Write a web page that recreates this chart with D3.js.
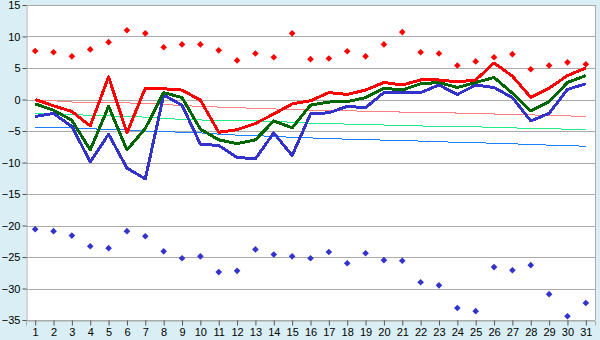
<!DOCTYPE html>
<html>
<head>
<meta charset="utf-8">
<script src="https://cdn.jsdelivr.net/npm/d3@7"></script>
<style>
  body { margin: 0; background: #d9eef5; }
  svg { display: block; }
  text { font-family: "Liberation Sans", Arial, sans-serif; font-size: 11px; fill: #000; }
</style>
</head>
<body>
<svg width="600" height="340"></svg>
<script>
const days = d3.range(1, 32);

const recordHigh = [7.7, 7.5, 6.85, 7.95, 9.1, 11.0, 10.5, 8.3, 8.75, 8.75, 7.8, 6.2, 7.3, 6.7, 10.5,
  6.4, 6.5, 7.65, 6.85, 8.75, 10.7, 7.5, 7.3, 5.4, 6.05, 6.7, 7.2, 4.8, 5.4, 5.9, 5.6];
const recordLow = [-20.6, -20.9, -21.6, -23.3, -23.6, -20.9, -21.7, -24.1, -25.2, -24.9, -27.4, -27.2, -23.8, -24.6, -24.9,
  -25.2, -24.2, -26.0, -24.4, -25.5, -25.6, -29.0, -29.5, -33.1, -33.6, -26.6, -27.1, -26.3, -30.9, -34.4, -32.3];

const tMax = [0.0, -1.0, -1.9, -4.2, 3.6, -5.3, 1.8, 1.7, 1.5, -0.1, -5.2, -4.8, -3.8, -2.3, -0.7,
  -0.2, 1.1, 0.8, 1.5, 2.7, 2.3, 3.1, 3.1, 2.8, 3.1, 5.8, 3.7, 0.35, 1.8, 3.8, 5.0];
const tMean = [-0.7, -1.7, -3.3, -8.0, -1.1, -8.0, -4.6, 1.1, 0.3, -4.7, -6.4, -7.0, -6.4, -3.4, -4.5,
  -0.9, -0.4, -0.35, 0.3, 1.8, 1.5, 2.5, 2.7, 1.9, 2.7, 3.5, 1.0, -1.8, -0.35, 2.7, 3.8];
const tMin = [-2.7, -2.2, -4.3, -9.9, -5.5, -10.9, -12.6, 0.7, -0.9, -7.1, -7.3, -9.2, -9.4, -5.3, -8.9,
  -2.3, -2.1, -1.1, -1.3, 1.1, 1.1, 1.1, 2.3, 0.8, 2.3, 1.9, 0.3, -3.4, -2.2, 1.6, 2.5];

const normMax = [-0.1, -0.2, -0.4, -0.45, -0.5, -0.55, -0.6, -0.8, -0.95, -1.1, -1.2, -1.3, -1.4, -1.5, -1.6,
  -1.7, -1.75, -1.8, -1.85, -1.9, -2.0, -2.05, -2.1, -2.15, -2.2, -2.3, -2.4, -2.45, -2.5, -2.6, -2.7];
const normMean = [-2.2, -2.3, -2.4, -2.5, -2.6, -2.7, -2.8, -3.0, -3.15, -3.25, -3.3, -3.35, -3.4, -3.5, -3.6,
  -3.75, -3.85, -3.9, -3.95, -4.05, -4.1, -4.2, -4.25, -4.3, -4.35, -4.4, -4.5, -4.6, -4.65, -4.7, -4.75];
const normMin = [-4.4, -4.45, -4.5, -4.65, -4.75, -4.85, -5.0, -5.1, -5.2, -5.3, -5.5, -5.65, -5.75, -5.85, -6.0,
  -6.1, -6.2, -6.3, -6.35, -6.45, -6.5, -6.6, -6.7, -6.8, -6.85, -6.95, -7.05, -7.1, -7.25, -7.35, -7.4];

const yTicks = [15, 10, 5, 0, -5, -10, -15, -20, -25, -30, -35];

const plotLeft = 26, plotRight = 595, plotTop = 5, plotBottom = 320;

const svg = d3.select("svg");

const x = d3.scalePoint().domain(days).range([plotLeft, plotRight]).padding(0.5);
const y = d3.scaleLinear().domain([-35, 15]).range([plotBottom, plotTop]);

// plot background
svg.append("rect")
  .attr("x", plotLeft).attr("y", plotTop)
  .attr("width", plotRight - plotLeft).attr("height", plotBottom - plotTop)
  .attr("fill", "#fff");

// gridlines
svg.append("g")
  .selectAll("line")
  .data(yTicks)
  .enter().append("line")
    .attr("x1", plotLeft).attr("x2", plotRight)
    .attr("y1", d => Math.round(y(d)) + 0.5)
    .attr("y2", d => Math.round(y(d)) + 0.5)
    .attr("stroke", "#aaa");

// right border
svg.append("line")
  .attr("x1", plotRight + 0.5).attr("x2", plotRight + 0.5)
  .attr("y1", plotTop).attr("y2", plotBottom)
  .attr("stroke", "#aaa");

// axes
const yAxis = svg.append("g")
  .attr("transform", `translate(${plotLeft + 0.5},0)`)
  .call(d3.axisLeft(y).tickValues(yTicks).tickSize(4).tickPadding(2).tickFormat(d3.format("d")));

const xAxis = svg.append("g")
  .attr("transform", `translate(0,${plotBottom + 0.5})`)
  .call(d3.axisBottom(x).tickSize(5).tickPadding(3));

[yAxis, xAxis].forEach(g => {
  g.select(".domain").attr("stroke", "#aaa");
  g.selectAll(".tick line").attr("stroke", "#555");
  g.selectAll("text").attr("font-size", 11).attr("font-family", "Liberation Sans, Arial, sans-serif");
});

const line = d3.line()
  .x((d, i) => x(days[i]))
  .y(d => y(d));

const drawLine = (values, color, width) => {
  svg.append("path")
    .datum(values)
    .attr("d", line)
    .attr("fill", "none")
    .attr("stroke", color)
    .attr("stroke-width", width)
    .attr("stroke-linejoin", "round")
    .attr("shape-rendering", "crispEdges");
};

drawLine(normMax, "#ff8080", 1);
drawLine(normMean, "#22ee88", 1);
drawLine(normMin, "#1a80ff", 1);
drawLine(tMin, "#3333cc", 3);
drawLine(tMean, "#006600", 3);
drawLine(tMax, "#ff0000", 3);

// small diamonds: a square turned 45 degrees
const diamond = d3.symbol().type(d3.symbolSquare).size(22);

const drawPoints = (values, color) => {
  svg.append("g")
    .selectAll("path")
    .data(values)
    .enter().append("path")
      .attr("d", diamond)
      .attr("transform", (d, i) => `translate(${x(days[i])},${y(d)}) rotate(45)`)
      .attr("fill", color);
};

drawPoints(recordHigh, "#ff0000");
drawPoints(recordLow, "#3333cc");
</script>
</body>
</html>
